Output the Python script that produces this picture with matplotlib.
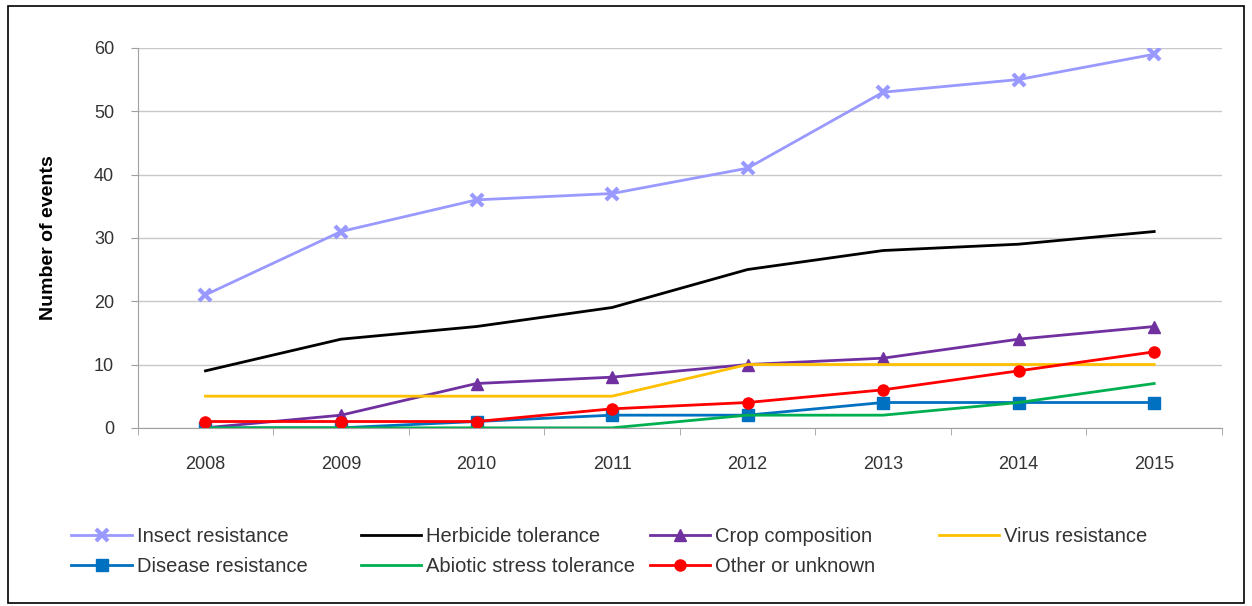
import numpy as np
import matplotlib.pyplot as plt
from matplotlib.patches import Rectangle

plt.rcParams['font.family'] = ['Liberation Sans', 'DejaVu Sans']

""" Data """
years = ['2008', '2009', '2010', '2011', '2012', '2013', '2014', '2015']
insect = [21, 31, 36, 37, 41, 53, 55, 59]
herbicide = [9, 14, 16, 19, 25, 28, 29, 31]
crop = [0, 2, 7, 8, 10, 11, 14, 16]
virus = [5, 5, 5, 5, 10, 10, 10, 10]
disease = [0, 0, 1, 2, 2, 4, 4, 4]
abiotic = [0, 0, 0, 0, 2, 2, 4, 7]
other = [1, 1, 1, 3, 4, 6, 9, 12]

x = np.arange(len(years))
txt = '#333333'

fig = plt.figure(figsize=(12.52, 6.06), dpi=100)
ax = fig.add_axes([0.110, 0.294, 0.866, 0.627])

h_ins, = ax.plot(x, insect, color='#9999ff', lw=2, marker='x', ms=9, mew=3, label='Insect resistance')
h_her, = ax.plot(x, herbicide, color='black', lw=2, label='Herbicide tolerance')
h_crp, = ax.plot(x, crop, color='#7030a0', lw=2, marker='^', ms=8, label='Crop composition')
h_vir, = ax.plot(x, virus, color='#ffc000', lw=2, label='Virus resistance')
h_dis, = ax.plot(x, disease, color='#0070c0', lw=2, marker='s', ms=8, label='Disease resistance')
h_abi, = ax.plot(x, abiotic, color='#00b050', lw=2, label='Abiotic stress tolerance')
h_oth, = ax.plot(x, other, color='#ff0000', lw=2, marker='o', ms=8, label='Other or unknown')

ax.set_xlim(-0.5, 7.5)
ax.set_ylim(0, 60)
ax.set_yticks(np.arange(0, 61, 10))
ax.set_xticks(x)
ax.set_xticklabels(years)
ax.set_xticks(np.arange(-0.5, 8, 1), minor=True)
ax.tick_params(axis='x', which='major', length=0, pad=20, labelsize=13, labelcolor=txt)
ax.tick_params(axis='x', which='minor', length=5, color='#a0a0a0', direction='out')
ax.tick_params(axis='y', length=5, color='#a0a0a0', labelsize=13, pad=12, labelcolor=txt)
ax.grid(axis='y', color='#c8c8c8', lw=1)
ax.set_axisbelow(True)
for s in ['top', 'right']:
    ax.spines[s].set_visible(False)
ax.spines['left'].set_color('#a0a0a0')
ax.spines['bottom'].set_color('#a0a0a0')
ax.set_ylabel('Number of events', fontsize=14, fontweight='bold', color='black')
ax.yaxis.set_label_coords(-0.074, 0.5)

# legend: one small legend per column, laid out row by row like the original
cols = [[h_ins, h_dis], [h_her, h_abi], [h_crp, h_oth], [h_vir]]
col_x = [0.057, 0.288, 0.519, 0.750]
for hs, cx in zip(cols, col_x):
    fig.legend(handles=hs, loc='upper left', bbox_to_anchor=(cx, 0.130), frameon=False,
               fontsize=14.5, handlelength=3.0, handletextpad=0.25, labelspacing=0.55,
               borderaxespad=0, borderpad=0, labelcolor=txt)

fig.patches.append(Rectangle((0.006, 0.005), 0.988, 0.985, transform=fig.transFigure,
                             fill=False, edgecolor='black', lw=1.2))

fig.savefig('out.png', dpi=100)
